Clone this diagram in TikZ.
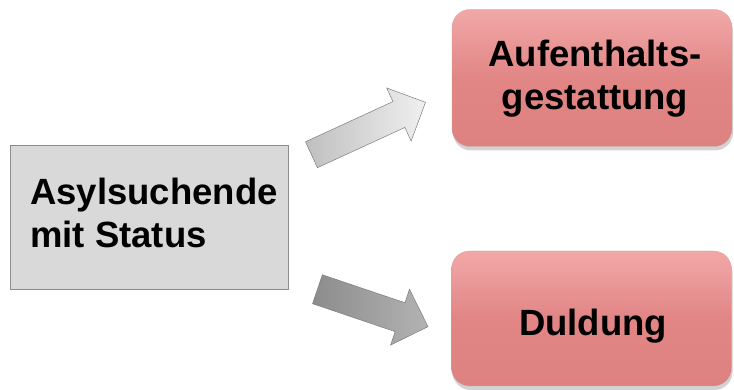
\documentclass[tikz,border=0pt]{standalone}
\usepackage{fontspec}
\setmainfont{Liberation Sans}
\usetikzlibrary{shapes.arrows,shadows}
\definecolor{graybox}{RGB}{217,217,217}
\definecolor{grayline}{RGB}{140,140,140}
\definecolor{redtop}{RGB}{242,168,168}
\definecolor{redmid}{RGB}{225,133,133}
\definecolor{redbot}{RGB}{221,129,129}
\definecolor{arrline}{RGB}{125,125,125}
\tikzset{
  bigtext/.style={font=\fontsize{36.5}{43}\selectfont\bfseries, inner sep=0pt, text=black},
  redbox/.style={rounded corners=18pt, draw=redbot!80!black!60, line width=0.3pt,
    top color=redtop, bottom color=redbot, middle color=redmid,
    drop shadow={opacity=0.35, shadow xshift=1pt, shadow yshift=-4pt},
    minimum width=280pt, minimum height=137pt, inner sep=0pt},
  srcbox/.style={draw=grayline, fill=graybox, line width=0.6pt, minimum width=278pt, minimum height=144pt, inner sep=0pt},
  fatarrow/.style={single arrow, draw=arrline, line width=0.5pt, inner xsep=0pt,
    single arrow head indent=0pt, single arrow tip angle=90},
}
\begin{document}
\begin{tikzpicture}[x=1pt,y=1pt]
\useasboundingbox (0,0) rectangle (734,390);
% source box
\node[srcbox] (src) at (149,173) {};
\node[bigtext, anchor=base west] (s1) at (30,185) {Asylsuchende};
\node[bigtext, anchor=base west] (s2) at (30,142) {mit Status};
% target boxes
\node[redbox] (top) at (592,312) {};
\node[redbox, minimum height=135pt] (bot) at (591.5,71.5) {};
\node[bigtext, anchor=base] (t1) at (595,323) {Aufenthalts-};
\node[bigtext, anchor=base] (t2) at (595,280) {gestattung};
\node[bigtext, anchor=base] (t3) at (593,54) {Duldung};
% arrows
\node[fatarrow, inner ysep=14pt, minimum height=125.5pt, minimum width=58pt, single arrow head extend=15pt,
  rotate=24.7, left color=black!25, right color=black!6] (a1) at (362,258.5) {};
\node[fatarrow, inner ysep=15pt, minimum height=116.7pt, minimum width=58.5pt, single arrow head extend=14.25pt,
  rotate=-18.7, left color=black!45, right color=black!30] (a2) at (365.5,84.5) {};
\end{tikzpicture}
\end{document}
